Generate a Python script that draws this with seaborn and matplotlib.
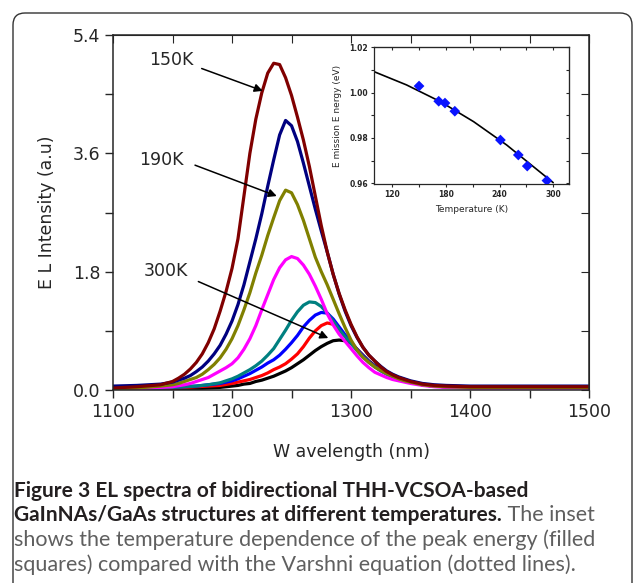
import numpy as np
import pandas as pd
import matplotlib
matplotlib.use('Agg')
import matplotlib.pyplot as plt
from matplotlib.patches import FancyBboxPatch
from matplotlib.transforms import IdentityTransform
from matplotlib.ticker import MultipleLocator, FormatStrFormatter
import seaborn as sns

# %%
# wavelength grid (nm)
wl = [1100, 1120, 1140,
      1150, 1155, 1160, 1165, 1170, 1175, 1180, 1185, 1190, 1195, 1200,
      1205, 1210, 1215, 1220, 1225, 1230, 1235, 1240, 1245, 1250, 1255, 1260, 1265, 1270,
      1275, 1280, 1285, 1290, 1295,
      1300, 1305, 1310, 1315, 1320, 1325, 1330, 1335, 1340, 1345, 1350,
      1360, 1370, 1380, 1400, 1450, 1500]

# EL intensity (a.u.) of each curve, same order as wl
darkred = [0.03, 0.05, 0.08,
           0.13, 0.18, 0.24, 0.32, 0.42, 0.55, 0.72, 0.93, 1.20, 1.50, 1.85,
           2.30, 2.95, 3.60, 4.12, 4.52, 4.82, 4.97, 4.95, 4.75, 4.48, 4.15, 3.80, 3.40, 2.95,
           2.50, 2.10, 1.76, 1.47, 1.22,
           1.00, 0.81, 0.65, 0.53, 0.44, 0.35, 0.28, 0.23, 0.19, 0.16, 0.13,
           0.09, 0.07, 0.06, 0.05, 0.05, 0.05]
navy = [0.06, 0.07, 0.09,
        0.12, 0.15, 0.18, 0.22, 0.28, 0.35, 0.44, 0.55, 0.68, 0.85, 1.05,
        1.30, 1.60, 1.95, 2.30, 2.68, 3.10, 3.50, 3.88, 4.10, 4.02, 3.78, 3.45, 3.10, 2.75,
        2.42, 2.10, 1.76, 1.46, 1.20,
        0.98, 0.80, 0.65, 0.53, 0.44, 0.36, 0.29, 0.24, 0.20, 0.17, 0.14,
        0.10, 0.08, 0.07, 0.06, 0.06, 0.06]
olive = [0.02, 0.03, 0.06,
         0.08, 0.10, 0.13, 0.16, 0.19, 0.24, 0.31, 0.39, 0.49, 0.62, 0.78,
         0.98, 1.22, 1.48, 1.78, 2.05, 2.35, 2.62, 2.88, 3.04, 3.00, 2.82, 2.58, 2.30, 2.02,
         1.80, 1.60, 1.38, 1.16, 0.95,
         0.76, 0.61, 0.50, 0.42, 0.35, 0.30, 0.25, 0.21, 0.17, 0.14, 0.12,
         0.08, 0.06, 0.05, 0.04, 0.04, 0.04]
magenta = [0.01, 0.02, 0.04,
           0.05, 0.065, 0.08, 0.10, 0.13, 0.16, 0.19, 0.24, 0.29, 0.34, 0.40,
           0.49, 0.62, 0.78, 0.98, 1.22, 1.45, 1.68, 1.86, 1.98, 2.03, 2.00, 1.90, 1.76, 1.58,
           1.38, 1.16, 0.99, 0.85, 0.74,
           0.63, 0.52, 0.42, 0.34, 0.27, 0.23, 0.19, 0.16, 0.14, 0.12, 0.10,
           0.07, 0.05, 0.04, 0.03, 0.03, 0.03]
teal = [0.01, 0.02, 0.03,
        0.04, 0.045, 0.05, 0.055, 0.06, 0.07, 0.08, 0.095, 0.11, 0.14, 0.17,
        0.21, 0.26, 0.31, 0.37, 0.44, 0.53, 0.63, 0.77, 0.91, 1.06, 1.19, 1.29, 1.34, 1.33,
        1.27, 1.17, 1.05, 0.92, 0.81,
        0.71, 0.60, 0.50, 0.42, 0.35, 0.29, 0.24, 0.20, 0.17, 0.14, 0.12,
        0.08, 0.06, 0.05, 0.04, 0.04, 0.04]
blue = [0.01, 0.02, 0.03,
        0.04, 0.045, 0.05, 0.055, 0.06, 0.07, 0.08, 0.09, 0.10, 0.12, 0.14,
        0.17, 0.21, 0.25, 0.30, 0.35, 0.41, 0.46, 0.53, 0.62, 0.72, 0.83, 0.96, 1.06, 1.14,
        1.18, 1.17, 1.08, 0.96, 0.84,
        0.73, 0.62, 0.52, 0.43, 0.36, 0.30, 0.25, 0.21, 0.17, 0.14, 0.12,
        0.08, 0.06, 0.05, 0.04, 0.04, 0.04]
red = [0.01, 0.01, 0.02,
       0.03, 0.035, 0.04, 0.045, 0.05, 0.055, 0.06, 0.065, 0.07, 0.085, 0.10,
       0.12, 0.14, 0.16, 0.19, 0.22, 0.26, 0.31, 0.35, 0.40, 0.47, 0.55, 0.66, 0.79, 0.90,
       0.98, 1.02, 1.00, 0.92, 0.82,
       0.72, 0.62, 0.52, 0.43, 0.36, 0.30, 0.25, 0.21, 0.17, 0.14, 0.12,
       0.08, 0.06, 0.05, 0.04, 0.04, 0.04]
black = [0.00, 0.01, 0.01,
         0.01, 0.015, 0.02, 0.02, 0.02, 0.025, 0.03, 0.035, 0.04, 0.05, 0.06,
         0.07, 0.09, 0.10, 0.13, 0.15, 0.18, 0.21, 0.25, 0.29, 0.34, 0.40, 0.46, 0.53, 0.60,
         0.66, 0.71, 0.75, 0.76, 0.75,
         0.71, 0.62, 0.53, 0.44, 0.37, 0.31, 0.25, 0.21, 0.17, 0.14, 0.12,
         0.08, 0.06, 0.05, 0.04, 0.04, 0.04]

# inset: peak energy vs temperature
temp = [150, 172, 179, 190, 241, 261, 271, 293]
energy = [1.0029, 0.9962, 0.9954, 0.9918, 0.9791, 0.9725, 0.9676, 0.9612]
# Varshni curve
v_temp = [100, 136, 174, 211, 248, 278, 300]
v_energy = [1.0092, 1.0034, 0.9960, 0.9872, 0.9769, 0.9673, 0.9603]

# %%
curves = {'black': black, 'red': red, 'blue': blue, 'teal': teal,
          'magenta': magenta, 'olive': olive, 'navy': navy, 'darkred': darkred}
palette = {'black': '#000000', 'red': '#ff0000', 'blue': '#0000ff', 'teal': '#008080',
           'magenta': '#ff00ff', 'olive': '#808000', 'navy': '#000080', 'darkred': '#800000'}

df = pd.concat([pd.DataFrame({'wavelength': wl, 'intensity': v, 'curve': k})
                for k, v in curves.items()], ignore_index=True)

sns.set_style('ticks')
plt.rcParams['font.family'] = ['DejaVu Sans']

fig = plt.figure(figsize=(6.35, 5.83), dpi=100)
ax = fig.add_axes([0.178, 0.331, 0.7496, 0.609])

sns.lineplot(data=df, x='wavelength', y='intensity', hue='curve', hue_order=list(curves),
             palette=palette, estimator=None, sort=False, lw=2.3, legend=False, ax=ax,
             solid_joinstyle='round', solid_capstyle='round')

ax.set_xlim(1100, 1500)
ax.set_ylim(0, 5.4)
ax.xaxis.set_major_locator(MultipleLocator(100))
ax.xaxis.set_minor_locator(MultipleLocator(50))
ax.yaxis.set_major_locator(MultipleLocator(1.8))
ax.yaxis.set_minor_locator(MultipleLocator(0.9))
ax.yaxis.set_major_formatter(FormatStrFormatter('%.1f'))
ax.tick_params(which='major', direction='out', length=6, width=1, labelsize=12.5, pad=3)
ax.tick_params(which='minor', direction='out', length=6, width=1)
for s in ax.spines.values():
    s.set_linewidth(1.1)

# ticks on top/right pointing in
top = ax.secondary_xaxis('top')
top.xaxis.set_major_locator(MultipleLocator(50))
top.tick_params(direction='in', length=6, labeltop=False)
right = ax.secondary_yaxis('right')
right.yaxis.set_major_locator(MultipleLocator(0.9))
right.tick_params(direction='in', length=6, labelright=False)

ax.set_xlabel('W avelength (nm)', fontsize=12.5, labelpad=16)
ax.set_ylabel('E L Intensity (a.u)', fontsize=12.5, labelpad=12)

# temperature labels with arrows
ann = dict(arrowprops=dict(arrowstyle='-|>', color='black', lw=1.1, mutation_scale=12,
                           shrinkA=0, shrinkB=0))
ax.annotate('', xy=(1225.8, 4.55), xytext=(1174.5, 4.89), **ann)
ax.annotate('', xy=(1237.6, 2.95), xytext=(1168.9, 3.42), **ann)
ax.annotate('', xy=(1280.9, 0.79), xytext=(1171.7, 1.65), **ann)
ax.text(1148.7, 5.02, '150K', fontsize=12.5, ha='center', va='center')
ax.text(1140.3, 3.50, '190K', fontsize=12.5, ha='center', va='center')
ax.text(1144.5, 1.81, '300K', fontsize=12.5, ha='center', va='center')

# %%
# inset
axi = fig.add_axes([0.5895, 0.6844, 0.307, 0.2345])
sns.lineplot(x=v_temp, y=v_energy, color='black', lw=1.2, ax=axi)
sns.scatterplot(x=temp, y=energy, marker='D', color='#0a14ff', s=30, edgecolor='none',
                zorder=3, ax=axi)
axi.set_xlim(100, 318)
axi.set_ylim(0.9597, 1.02)
axi.xaxis.set_major_locator(MultipleLocator(60))
axi.xaxis.set_minor_locator(MultipleLocator(30))
axi.yaxis.set_major_locator(MultipleLocator(0.02))
axi.yaxis.set_minor_locator(MultipleLocator(0.01))
axi.yaxis.set_major_formatter(FormatStrFormatter('%.2f'))
axi.tick_params(which='both', direction='out', length=2.5, width=0.8, labelsize=5.5, pad=2)
for lbl in axi.get_xticklabels() + axi.get_yticklabels():
    lbl.set_fontweight('bold')
for s in axi.spines.values():
    s.set_linewidth(0.9)
itop = axi.secondary_xaxis('top')
itop.xaxis.set_major_locator(MultipleLocator(30))
itop.tick_params(direction='in', length=2.5, width=0.8, labeltop=False)
iright = axi.secondary_yaxis('right')
iright.yaxis.set_major_locator(MultipleLocator(0.01))
iright.tick_params(direction='in', length=2.5, width=0.8, labelright=False)
axi.set_xlabel('Temperature (K)', fontsize=6.5, labelpad=4)
axi.set_ylabel('E mission E nergy (eV)', fontsize=6.5, labelpad=5)

# %%
# caption
cap_bold = '#231f20'
cap_reg = '#5f5f5f'
cfont = ['Lato', 'DejaVu Sans']
fs_b = 15
fs_r = 15.5
x0 = 14 / 635
fig.text(x0, 1 - 497 / 583, 'Figure 3 EL spectra of bidirectional THH-VCSOA-based',
         fontsize=fs_b, fontweight='bold', color=cap_bold, family=cfont, va='baseline')
t2 = fig.text(x0, 1 - 521 / 583, 'GaInNAs/GaAs structures at different temperatures.',
              fontsize=fs_b, fontweight='bold', color=cap_bold, family=cfont, va='baseline')
t_inset = fig.text(0, 0, ' The inset', fontsize=fs_r, color=cap_reg, family=cfont,
                   va='baseline', transform=IdentityTransform())
fig.text(x0, 1 - 546 / 583,
         'shows the temperature dependence of the peak energy (filled',
         fontsize=fs_r, color=cap_reg, family=cfont, va='baseline')
fig.text(x0, 1 - 571 / 583,
         'squares) compared with the Varshni equation (dotted lines).',
         fontsize=fs_r, color=cap_reg, family=cfont, va='baseline')

# rounded frame
frame = FancyBboxPatch((13, -60), 619, 630, boxstyle='round,pad=0,rounding_size=12',
                       transform=IdentityTransform(), fill=False, ec='#333333', lw=1.0)
fig.add_artist(frame)

# put " The inset" right after the bold part, on the same baseline
fig.canvas.draw()
bb = t2.get_window_extent()
t_inset.set_position((bb.x1, 583 - 521))

fig.savefig('out.png', dpi=100)
